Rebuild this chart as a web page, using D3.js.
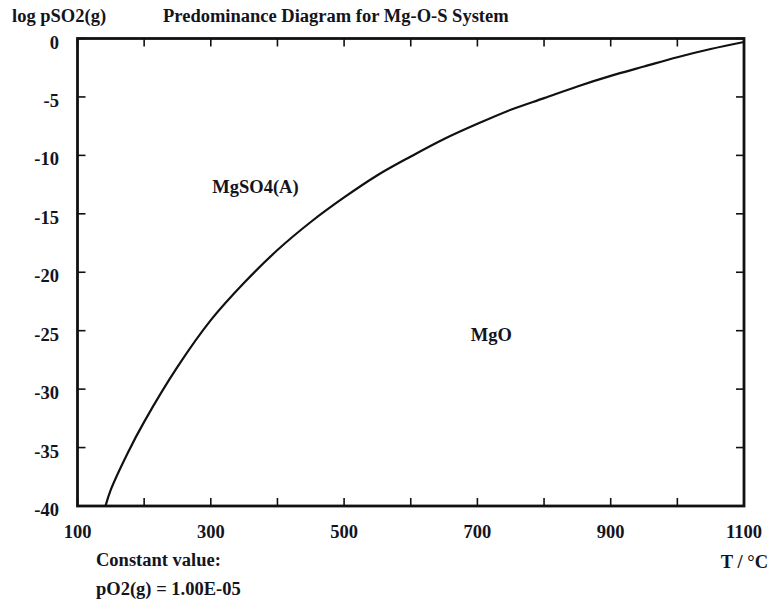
<!DOCTYPE html>
<html>
<head>
<meta charset="utf-8">
<script src="https://cdn.jsdelivr.net/npm/d3@7"></script>
<style>
  html, body { margin: 0; padding: 0; background: #fff; }
  svg text { font-family: "Liberation Serif", "Times New Roman", serif; font-weight: bold; fill: #141420; }
</style>
</head>
<body>
<svg id="chart" width="771" height="605"></svg>
<script>
// Mg-O-S predominance boundary: MgSO4 / MgO at fixed pO2
const temperatures = [142, 150, 175, 200, 250, 300, 350, 400, 450, 500, 550, 600, 650, 700, 750, 800, 850, 900, 950, 1000, 1050, 1100];
const logPSO2 = [-40, -38.6, -35.5, -32.8, -28.1, -24.1, -20.9, -18.1, -15.7, -13.6, -11.7, -10.1, -8.6, -7.3, -6.1, -5.1, -4.1, -3.2, -2.4, -1.6, -0.9, -0.3];

const xTicks = [100, 200, 300, 400, 500, 600, 700, 800, 900, 1000, 1100];
const xTickLabels = [100, 300, 500, 700, 900, 1100];
const yTicks = [0, -5, -10, -15, -20, -25, -30, -35, -40];

const regionLabels = [
  { text: "MgSO4(A)", t: 367, v: -13.2 },
  { text: "MgO", t: 721, v: -25.9 }
];

const svg = d3.select("#chart");
const plotLeft = 77.5, plotRight = 744, plotTop = 38.5, plotBottom = 506;

const x = d3.scaleLinear().domain([100, 1100]).range([plotLeft, plotRight]);
const y = d3.scaleLinear().domain([-40, 0]).range([plotBottom, plotTop]);

const tickLen = 8;
const ink = "#111";

// ticks pointing inward on all four sides
const g = svg.append("g");
xTicks.forEach(t => {
  g.append("line").attr("x1", x(t)).attr("x2", x(t)).attr("y1", plotBottom).attr("y2", plotBottom - tickLen)
    .attr("stroke", ink).attr("stroke-width", 1.6);
  g.append("line").attr("x1", x(t)).attr("x2", x(t)).attr("y1", plotTop).attr("y2", plotTop + tickLen)
    .attr("stroke", ink).attr("stroke-width", 1.6);
});
yTicks.forEach(v => {
  g.append("line").attr("x1", plotLeft).attr("x2", plotLeft + tickLen).attr("y1", y(v)).attr("y2", y(v))
    .attr("stroke", ink).attr("stroke-width", 1.6);
  g.append("line").attr("x1", plotRight).attr("x2", plotRight - tickLen).attr("y1", y(v)).attr("y2", y(v))
    .attr("stroke", ink).attr("stroke-width", 1.6);
});

// frame
svg.append("rect").attr("x", plotLeft).attr("y", plotTop).attr("width", plotRight - plotLeft).attr("height", plotBottom - plotTop)
  .attr("fill", "none").attr("stroke", ink).attr("stroke-width", 2.8);

// boundary curve
const line = d3.line().x((d, i) => x(temperatures[i])).y(d => y(d)).curve(d3.curveCatmullRom.alpha(0.5));
svg.append("path").datum(logPSO2).attr("d", line)
  .attr("fill", "none").attr("stroke", ink).attr("stroke-width", 2.2);

// tick labels
const fs = 18.5;
svg.selectAll(".xl").data(xTickLabels).enter().append("text")
  .attr("x", d => x(d)).attr("y", 538).attr("text-anchor", "middle").attr("font-size", fs).text(d => d);
svg.selectAll(".yl").data(yTicks).enter().append("text")
  .attr("x", 59).attr("y", d => y(d) + 10).attr("text-anchor", "end").attr("font-size", fs).text(d => d);

// titles and notes
svg.append("text").attr("x", 12).attr("y", 22).attr("font-size", fs).text("log pSO2(g)");
svg.append("text").attr("x", 163).attr("y", 22).attr("font-size", fs).text("Predominance Diagram for Mg-O-S System");
svg.append("text").attr("x", 768).attr("y", 568).attr("text-anchor", "end").attr("font-size", fs).text("T / °C");
svg.append("text").attr("x", 96).attr("y", 566).attr("font-size", fs).text("Constant value:");
svg.append("text").attr("x", 96).attr("y", 595).attr("font-size", fs).text("pO2(g) = 1.00E-05");

// region names
svg.selectAll(".rl").data(regionLabels).enter().append("text")
  .attr("x", d => x(d.t)).attr("y", d => y(d.v)).attr("text-anchor", "middle").attr("font-size", fs)
  .text(d => d.text);
</script>
</body>
</html>
